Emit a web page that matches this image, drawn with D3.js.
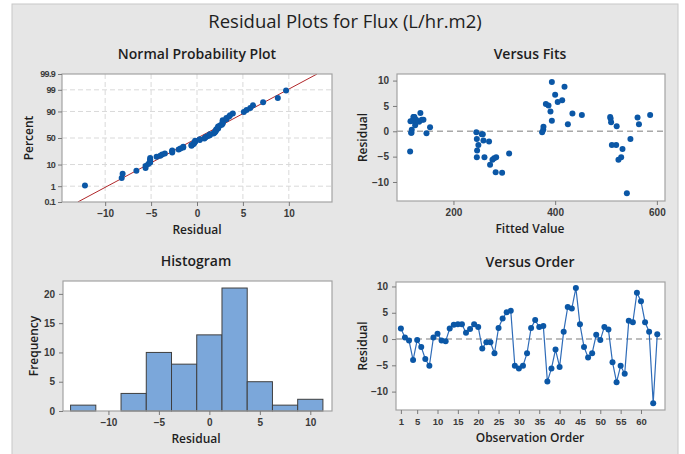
<!DOCTYPE html>
<html>
<head>
<meta charset="utf-8">
<script src="https://cdn.jsdelivr.net/npm/d3@7/dist/d3.min.js"></script>
<style>
  html, body { margin: 0; padding: 0; background: #ffffff; }
  svg { display: block; font-family: "Open Sans", "Noto Sans", sans-serif; }
  .tick text { fill: #3a3a3a; }
</style>
</head>
<body>
<svg id="chart" width="685" height="454"></svg>
<script>
// Residuals in observation order (1..64)
const residuals = [
  2.0, 0.3, -0.3, -4.0, -0.2, -1.5, -3.8, -5.1, 0.3, 1.0,
  -0.3, -0.4, 2.0, 2.7, 2.8, 2.8, 1.2, 1.9, 2.8, 2.3,
  -1.8, -0.6, -0.6, -2.7, 2.1, 3.9, 5.1, 5.4, -5.1, -5.6,
  -5.1, -2.7, 2.1, 3.6, 2.3, 2.5, -8.1, -5.6, -2.0, -5.3,
  1.4, 6.1, 5.8, 9.7, 2.8, -1.5, -3.5, -2.7, 0.8, -0.2,
  2.3, 1.8, -4.4, -8.2, -5.1, -6.6, 3.5, 3.2, 8.8, 7.2,
  3.2, 1.4, -12.2, 0.9
];
// Fitted values, same order
const fitted = [
  115.5, 118, 116.8, 114.8, 245, 246, 246.5, 246, 376.6, 521,
  117.5, 147, 128.6, 562, 121.3, 123.3, 124.7, 132.5, 122, 126.6,
  259, 255.7, 257.7, 520, 119.4, 390.8, 386.9, 381.7, 261, 276.7,
  529.8, 249, 393.5, 135, 137.8, 509, 283, 524.5, 270, 280,
  564.8, 413.8, 405, 393.5, 508.2, 548, 532.4, 511.5, 154, 374.4,
  141, 510, 309.5, 295.7, 284, 272, 434, 452.5, 418.4, 400,
  586.8, 425, 541, 377
];
// Histogram bins (width 2.5) and frequencies
const binCenters = [-12.5, -10, -7.5, -5, -2.5, 0, 2.5, 5, 7.5, 10];
const binCounts  = [1, 0, 3, 10, 8, 13, 21, 5, 1, 2];
const binWidth = 2.5;

// Tick labels
const nppPercentTicks = [0.1, 1, 10, 50, 90, 99, 99.9];
const residualTicks = [-10, -5, 0, 5, 10];
const fitTicks = [200, 400, 600];
const freqTicks = [0, 5, 10, 15, 20];
const orderTicks = [1, 5, 10, 15, 20, 25, 30, 35, 40, 45, 50, 55, 60];

// Inverse standard normal CDF (Acklam's rational approximation)
function probit(p) {
  const a = [-3.969683028665376e+01, 2.209460984245205e+02, -2.759285104469687e+02,
             1.383577518672690e+02, -3.066479806614716e+01, 2.506628277459239e+00];
  const b = [-5.447609879822406e+01, 1.615858368580409e+02, -1.556989798598866e+02,
             6.680131188771972e+01, -1.328068155288572e+01];
  const c = [-7.784894002430293e-03, -3.223964580411365e-01, -2.400758277161838e+00,
             -2.549671010115618e+00, 4.374664141464968e+00, 2.938163982698783e+00];
  const d = [7.784695709041462e-03, 3.224671290700398e-01, 2.445134137142996e+00,
             3.754408661907416e+00];
  const pl = 0.02425, ph = 1 - pl;
  let q, r;
  if (p < pl) {
    q = Math.sqrt(-2 * Math.log(p));
    return (((((c[0]*q+c[1])*q+c[2])*q+c[3])*q+c[4])*q+c[5]) / ((((d[0]*q+d[1])*q+d[2])*q+d[3])*q+1);
  } else if (p <= ph) {
    q = p - 0.5; r = q * q;
    return (((((a[0]*r+a[1])*r+a[2])*r+a[3])*r+a[4])*r+a[5])*q / (((((b[0]*r+b[1])*r+b[2])*r+b[3])*r+b[4])*r+1);
  } else {
    q = Math.sqrt(-2 * Math.log(1 - p));
    return -(((((c[0]*q+c[1])*q+c[2])*q+c[3])*q+c[4])*q+c[5]) / ((((d[0]*q+d[1])*q+d[2])*q+d[3])*q+1);
  }
}

const svg = d3.select("#chart");
const BLUE = "#0b57a6";
const FRAME = "#a3a3a3";
const TEXT = "#1e1e1e";

// Outer gray panel
svg.append("rect").attr("x", 12).attr("y", 4).attr("width", 666).attr("height", 460)
  .attr("fill", "#e6e6e6").attr("stroke", "#c8c8c8").attr("stroke-width", 1);

svg.append("text").attr("x", 345).attr("y", 28).attr("text-anchor", "middle")
  .attr("font-size", 18.5).attr("fill", TEXT).text("Residual Plots for Flux (L/hr.m2)");

function panel(box, title, xLabel, yLabel, yLabelX) {
  const g = svg.append("g");
  g.append("rect").attr("x", box.x0).attr("y", box.y0)
    .attr("width", box.x1 - box.x0).attr("height", box.y1 - box.y0)
    .attr("fill", "#ffffff");
  g.append("text").attr("x", box.titleX).attr("y", box.y0 - 15).attr("text-anchor", "middle")
    .attr("font-size", 14).attr("font-weight", 600).attr("fill", TEXT).text(title);
  g.append("text").attr("x", box.titleX).attr("y", box.y1 + 32).attr("text-anchor", "middle")
    .attr("font-size", 12).attr("font-weight", 600).attr("fill", TEXT).text(xLabel);
  g.append("text").attr("transform", `translate(${yLabelX},${(box.y0 + box.y1) / 2}) rotate(-90)`)
    .attr("text-anchor", "middle").attr("font-size", 12).attr("font-weight", 600)
    .attr("fill", TEXT).text(yLabel);
  return g;
}

function frame(g, box) {
  g.append("rect").attr("x", box.x0).attr("y", box.y0)
    .attr("width", box.x1 - box.x0).attr("height", box.y1 - box.y0)
    .attr("fill", "none").attr("stroke", FRAME).attr("stroke-width", 1.2);
}

function styleAxis(sel, size) {
  sel.select(".domain").remove();
  sel.selectAll(".tick line").attr("stroke", "#7a7a7a");
  sel.selectAll(".tick text").attr("font-size", size || 10).attr("font-weight", 600);
}

// ---------- Normal Probability Plot ----------
{
  const box = { x0: 62, x1: 332, y0: 74, y1: 202, titleX: 197 };
  const g = panel(box, "Normal Probability Plot", "Residual", "Percent", 33);
  const x = d3.scaleLinear().domain([-14.7, 14.7]).range([box.x0, box.x1]);
  const zMax = probit(0.999);
  const y = d3.scaleLinear().domain([-zMax, zMax]).range([box.y1, box.y0]);
  const yp = p => y(probit(p / 100));

  // dashed grid
  g.append("g").selectAll("line").data(residualTicks).join("line")
    .attr("x1", d => x(d)).attr("x2", d => x(d)).attr("y1", box.y0).attr("y2", box.y1)
    .attr("stroke", "#d9d9d9").attr("stroke-dasharray", "5,3");
  g.append("g").selectAll("line").data(nppPercentTicks.filter(p => p > 0.1 && p < 99.9)).join("line")
    .attr("x1", box.x0).attr("x2", box.x1).attr("y1", d => yp(d)).attr("y2", d => yp(d))
    .attr("stroke", "#d9d9d9").attr("stroke-dasharray", "5,3");

  // fitted normal line from mean and standard deviation
  const mean = d3.mean(residuals), sd = d3.deviation(residuals);
  svg.append("clipPath").attr("id", "nppClip").append("rect")
    .attr("x", box.x0).attr("y", box.y0).attr("width", box.x1 - box.x0).attr("height", box.y1 - box.y0);
  g.append("line").attr("clip-path", "url(#nppClip)")
    .attr("x1", x(mean - zMax * sd)).attr("y1", y(-zMax))
    .attr("x2", x(mean + zMax * sd)).attr("y2", y(zMax))
    .attr("stroke", "#b0272a").attr("stroke-width", 1);

  const sorted = residuals.slice().sort(d3.ascending);
  const n = sorted.length;
  g.append("g").selectAll("circle").data(sorted).join("circle")
    .attr("cx", d => x(d)).attr("cy", (d, i) => yp(100 * (i + 1 - 0.3) / (n + 0.4)))
    .attr("r", 3).attr("fill", BLUE);

  frame(g, box);
  const ax = g.append("g").attr("transform", `translate(0,${box.y1})`)
    .call(d3.axisBottom(x).tickValues(residualTicks).tickSize(4).tickPadding(4));
  styleAxis(ax);
  const ay = g.append("g").attr("transform", `translate(${box.x0},0)`)
    .call(d3.axisLeft(y).tickValues(nppPercentTicks.map(p => probit(p / 100)))
      .tickFormat((d, i) => String(nppPercentTicks[i])).tickSize(4).tickPadding(3));
  styleAxis(ay, 9);
  ay.selectAll(".tick text").attr("letter-spacing", -0.7);
}

// ---------- Versus Fits ----------
{
  const box = { x0: 397, x1: 665, y0: 74, y1: 201, titleX: 530 };
  const g = panel(box, "Versus Fits", "Fitted Value", "Residual", 367);
  const x = d3.scaleLinear().domain([89, 616]).range([box.x0, box.x1]);
  const y = d3.scaleLinear().domain([-13.75, 11.3]).range([box.y1, box.y0]);
  g.append("line").attr("x1", box.x0).attr("x2", box.x1).attr("y1", y(0)).attr("y2", y(0))
    .attr("stroke", "#a8a8a8").attr("stroke-width", 1.4).attr("stroke-dasharray", "6,4");
  g.append("g").selectAll("circle").data(residuals).join("circle")
    .attr("cx", (d, i) => x(fitted[i])).attr("cy", d => y(d))
    .attr("r", 3).attr("fill", BLUE);
  frame(g, box);
  const ax = g.append("g").attr("transform", `translate(0,${box.y1})`)
    .call(d3.axisBottom(x).tickValues(fitTicks).tickSize(4).tickPadding(4));
  styleAxis(ax);
  const ay = g.append("g").attr("transform", `translate(${box.x0},0)`)
    .call(d3.axisLeft(y).tickValues(residualTicks).tickSize(4).tickPadding(4));
  styleAxis(ay);
}

// ---------- Histogram ----------
{
  const box = { x0: 63, x1: 332, y0: 281, y1: 411, titleX: 196 };
  const g = panel(box, "Histogram", "Residual", "Frequency", 38);
  const x = d3.scaleLinear().domain([-14.5, 12.15]).range([box.x0, box.x1]);
  const y = d3.scaleLinear().domain([0, 22.2]).range([box.y1, box.y0]);
  g.append("g").selectAll("rect").data(binCenters).join("rect")
    .attr("x", d => x(d - binWidth / 2)).attr("width", d => x(d + binWidth / 2) - x(d - binWidth / 2))
    .attr("y", (d, i) => y(binCounts[i])).attr("height", (d, i) => y(0) - y(binCounts[i]))
    .attr("fill", "#7ba7da").attr("stroke", "#3f3f3f").attr("stroke-width", 1)
    .attr("display", (d, i) => binCounts[i] > 0 ? null : "none");
  frame(g, box);
  const ax = g.append("g").attr("transform", `translate(0,${box.y1})`)
    .call(d3.axisBottom(x).tickValues(residualTicks).tickSize(4).tickPadding(4));
  styleAxis(ax);
  const ay = g.append("g").attr("transform", `translate(${box.x0},0)`)
    .call(d3.axisLeft(y).tickValues(freqTicks).tickSize(4).tickPadding(4));
  styleAxis(ay);
}

// ---------- Versus Order ----------
{
  const box = { x0: 396, x1: 665, y0: 282, y1: 410, titleX: 530 };
  const g = panel(box, "Versus Order", "Observation Order", "Residual", 367);
  const x = d3.scaleLinear().domain([-0.2, 65.9]).range([box.x0, box.x1]);
  const y = d3.scaleLinear().domain([-13.5, 10.85]).range([box.y1, box.y0]);
  g.append("line").attr("x1", box.x0).attr("x2", box.x1).attr("y1", y(0)).attr("y2", y(0))
    .attr("stroke", "#a8a8a8").attr("stroke-width", 1.4).attr("stroke-dasharray", "6,4");
  const line = d3.line().x((d, i) => x(i + 1)).y(d => y(d));
  g.append("path").datum(residuals).attr("d", line)
    .attr("fill", "none").attr("stroke", "#2f6cb8").attr("stroke-width", 1.2);
  g.append("g").selectAll("circle").data(residuals).join("circle")
    .attr("cx", (d, i) => x(i + 1)).attr("cy", d => y(d))
    .attr("r", 3).attr("fill", BLUE);
  frame(g, box);
  const ax = g.append("g").attr("transform", `translate(0,${box.y1})`)
    .call(d3.axisBottom(x).tickValues(orderTicks).tickSize(4).tickPadding(4));
  styleAxis(ax, 9.5);
  const ay = g.append("g").attr("transform", `translate(${box.x0},0)`)
    .call(d3.axisLeft(y).tickValues(residualTicks).tickSize(4).tickPadding(4));
  styleAxis(ay);
}
</script>
</body>
</html>
